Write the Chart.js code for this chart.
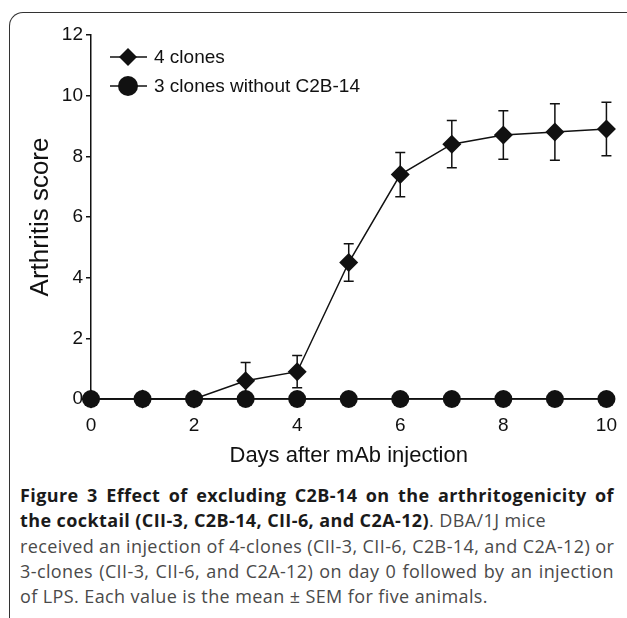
<!DOCTYPE html>
<html>
<head>
<meta charset="utf-8">
<script src="https://cdn.jsdelivr.net/npm/chart.js@4/dist/chart.umd.min.js"></script>
<style>
  body { margin: 0; background: #fff; width: 627px; height: 618px; overflow: hidden; position: relative; }
  #frame { position: absolute; left: 9px; top: 12px; width: 660px; height: 700px;
           border-left: 1.5px solid #333; border-top: 1.5px solid #333; border-top-left-radius: 14px; }
  #wrap { position: absolute; left: 0; top: 0; width: 627px; height: 470px; }
  #caption { position: absolute; left: 20px; top: 483px; width: 594px;
             font-family: "Open Sans", sans-serif; font-size: 18px; line-height: 25.3px;
             letter-spacing: 0.4px; color: #4a4a4a; white-space: nowrap; }
  #caption div { text-align: justify; text-align-last: justify; }
  #caption div.last { text-align-last: left; }
  #caption b { color: #1a1a1a; }
</style>
</head>
<body>
<div id="frame"></div>
<div id="wrap"><canvas id="arthritisChart" width="627" height="470"></canvas></div>
<div id="caption">
  <div><b>Figure 3 Effect of excluding C2B-14 on the arthritogenicity of</b></div>
  <div class="last"><b>the cocktail (CII-3, C2B-14, CII-6, and C2A-12)</b>. DBA/1J mice</div>
  <div>received an injection of 4-clones (CII-3, CII-6, C2B-14, and C2A-12) or</div>
  <div>3-clones (CII-3, CII-6, and C2A-12) on day 0 followed by an injection</div>
  <div class="last">of LPS. Each value is the mean ± SEM for five animals.</div>
</div>
<script>
// data
const days = [0, 1, 2, 3, 4, 5, 6, 7, 8, 9, 10];
const fourClones = [0, 0, 0, 0.6, 0.9, 4.5, 7.4, 8.4, 8.7, 8.8, 8.9];
const fourClonesSem = [0, 0, 0, 0.6, 0.53, 0.62, 0.73, 0.78, 0.8, 0.93, 0.88];
const threeClones = [0, 0, 0, 0, 0, 0, 0, 0, 0, 0, 0];
const seriesNames = ['4 clones', '3 clones without C2B-14'];

const ink = '#111';
const tickFont = { family: 'Liberation Sans, Arial, sans-serif', size: 19 };

// error bars (mean +/- SEM) under the markers
const errorBars = {
    id: 'errorBars',
    beforeDatasetsDraw(chart) {
        const { ctx, scales: { x, y } } = chart;
        ctx.save();
        ctx.strokeStyle = ink;
        ctx.lineWidth = 1.5;
        days.forEach((d, i) => {
            if (!fourClonesSem[i]) return;
            const px = x.getPixelForValue(d);
            const top = y.getPixelForValue(fourClones[i] + fourClonesSem[i]);
            const bot = y.getPixelForValue(Math.max(0, fourClones[i] - fourClonesSem[i]));
            ctx.beginPath();
            ctx.moveTo(px, top); ctx.lineTo(px, bot);
            ctx.moveTo(px - 5, top); ctx.lineTo(px + 5, top);
            ctx.moveTo(px - 5, bot); ctx.lineTo(px + 5, bot);
            ctx.stroke();
        });
        ctx.restore();
    }
};

// legend drawn inside the plot, marker on a short line
const insideLegend = {
    id: 'insideLegend',
    afterDraw(chart) {
        const { ctx } = chart;
        const rows = [57, 86];
        ctx.save();
        chart.data.datasets.forEach((ds, i) => {
            const yy = rows[i];
            ctx.strokeStyle = ink;
            ctx.lineWidth = 1.5;
            ctx.beginPath();
            ctx.moveTo(110, yy); ctx.lineTo(147, yy);
            ctx.stroke();
            ctx.fillStyle = ink;
            ctx.beginPath();
            if (ds.pointStyle === 'rectRot') {
                const r = 9;
                ctx.moveTo(128 - r, yy); ctx.lineTo(128, yy - r);
                ctx.lineTo(128 + r, yy); ctx.lineTo(128, yy + r);
                ctx.closePath();
            } else {
                ctx.arc(128, yy, 10, 0, Math.PI * 2);
            }
            ctx.fill();
            ctx.font = '19px Liberation Sans, Arial, sans-serif';
            ctx.textBaseline = 'middle';
            ctx.fillText(ds.label, 154, yy + 1);
        });
        ctx.restore();
    }
};

new Chart(document.getElementById('arthritisChart').getContext('2d'), {
    type: 'line',
    data: {
        datasets: [
            {
                label: seriesNames[0],
                data: days.map((d, i) => ({ x: d, y: fourClones[i] })),
                borderColor: ink,
                backgroundColor: ink,
                borderWidth: 1.5,
                pointStyle: 'rectRot',
                pointRadius: 9.5,
                pointBorderWidth: 0,
                clip: false,
                order: 2
            },
            {
                label: seriesNames[1],
                data: days.map((d, i) => ({ x: d, y: threeClones[i] })),
                borderColor: ink,
                backgroundColor: ink,
                borderWidth: 1.5,
                pointStyle: 'circle',
                pointRadius: 9,
                pointBorderWidth: 0,
                clip: false,
                order: 1
            }
        ]
    },
    options: {
        responsive: false,
        animation: false,
        layout: { padding: { top: 35, right: 20, left: 0, bottom: 0 } },
        plugins: {
            legend: { display: false },
            tooltip: { enabled: false }
        },
        scales: {
            x: {
                type: 'linear',
                min: 0,
                max: 10,
                afterFit: (s) => { s.height = 71; },
                ticks: { stepSize: 2, color: ink, font: tickFont, padding: 10 },
                grid: { drawOnChartArea: false, drawTicks: true, tickLength: 5, color: ink, lineWidth: 1.5 },
                border: { color: ink, width: 1.5 },
                title: {
                    display: true,
                    text: 'Days after mAb injection',
                    color: ink,
                    font: { family: 'Liberation Sans, Arial, sans-serif', size: 22 },
                    padding: { top: 0, bottom: 1 }
                }
            },
            y: {
                min: 0,
                max: 12,
                afterFit: (s) => { s.width = 91; },
                ticks: { stepSize: 2, color: ink, font: tickFont, padding: 3 },
                grid: { drawOnChartArea: false, drawTicks: true, tickLength: 5, color: ink, lineWidth: 1.5 },
                border: { color: ink, width: 1.5 },
                title: {
                    display: true,
                    text: 'Arthritis score',
                    color: ink,
                    font: { family: 'Liberation Sans, Arial, sans-serif', size: 26 },
                    padding: { top: 25, bottom: 0 }
                }
            }
        }
    },
    plugins: [errorBars, insideLegend]
});
</script>
</body>
</html>
